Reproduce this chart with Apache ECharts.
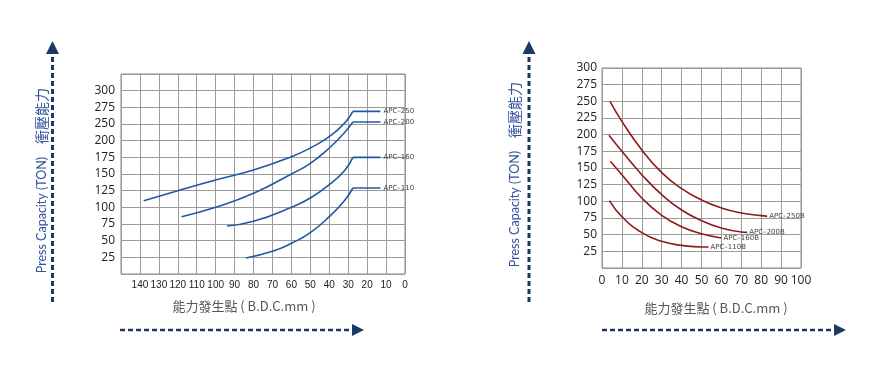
<!DOCTYPE html>
<html>
<head>
<meta charset="utf-8">
<script src="https://cdn.jsdelivr.net/npm/echarts@6/dist/echarts.min.js"></script>
<style>html,body{margin:0;padding:0;background:#fff;}#c{width:882px;height:380px;}</style>
</head>
<body>
<div id="c"></div>
<script>
// ---- Left chart (standard APC models), x = B.D.C. mm (axis inverted) ----
// y values are positions on the printed scale (grid steps of 25)
const leftYTickLabels = ['', '25', '50', '75', '100', '125', '150', '175', '200', '250', '275', '300', ''];
const leftXTickLabels = ['0','10','20','30','40','50','60','70','80','90','100','110','120','130','140',''];
const apc250Curve = [[138,110],[120,125],[100,141],[80,156],[60,176],[50,189],[40,206],[32,226],[27.5,244]];
const apc250Flat  = [[27.5,244],[13,244]];
const apc200Curve = [[118,86],[100,100],[80,121],[60,150],[50,166],[40,189],[32,212],[27.5,228]];
const apc200Flat  = [[27.5,228],[13,228]];
const apc160Curve = [[94,72],[80,79],[60,100],[50,114],[40,134],[32,155],[27.5,175]];
const apc160Flat  = [[27.5,175],[13,175]];
const apc110Curve = [[84,24],[70,34],[60,46],[50,62],[40,86],[32,110],[27.5,129]];
const apc110Flat  = [[27.5,129],[13,129]];
const leftNames = ['APC–250', 'APC–200', 'APC–160', 'APC–110'];

// ---- Right chart (B models) ----
const rightYTickLabels = ['', '25','50','75','100','125','150','175','200','225','250','275','300'];
const rightXTickLabels = ['0','10','20','30','40','50','60','70','80','90','100'];
const apc250B = [[4,250],[10,220],[20,177],[30,143],[40,119],[50,102],[60,90],[70,82.5],[80,78.5],[83,77.5]];
const apc200B = [[3.5,199],[10,175],[20,140],[30,110],[40,87],[50,71],[60,60],[70,54],[73,53.5]];
const apc160B = [[4.2,160],[10,140],[20,105],[30,79],[40,62],[50,51.5],[60,45]];
const apc110B = [[3.7,101],[10,77],[20,53],[30,40],[40,34],[50,31.5],[53.5,31.5]];
const rightNames = ['APC–250B', 'APC–200B', 'APC–160B', 'APC–110B'];

const blue = '#1f58a3';
const red = '#8e1a1c';
const navy = '#1d3769';
const gridColor = '#9a9a9a';
const narrowFont = '"Liberation Sans", Arial, sans-serif';
const labelFont = '"Open Sans", "DejaVu Sans", sans-serif';
const cjk = '"Noto Sans CJK TC", "Noto Sans CJK SC", sans-serif';
const tagStyle = { fontSize: 7, color: '#444', fontFamily: '"DejaVu Sans", sans-serif' };

function rightCurve(name, data) {
  return {
    type: 'line', name: name, data: data, xAxisIndex: 1, yAxisIndex: 1,
    smooth: 0.5, showSymbol: false, symbol: 'none',
    lineStyle: { color: red, width: 1.6 },
    endLabel: Object.assign({ show: true, formatter: name, distance: 2 }, tagStyle),
    z: 3
  };
}
function leftCurve(name, data) {
  return {
    type: 'line', name: name + ' curve', data: data, xAxisIndex: 0, yAxisIndex: 0,
    smooth: 0.5, showSymbol: false, symbol: 'none',
    lineStyle: { color: blue, width: 1.6 }, z: 3
  };
}
function leftFlat(name, data) {
  return {
    type: 'line', name: name, data: data, xAxisIndex: 0, yAxisIndex: 0,
    smooth: false, showSymbol: true, symbol: 'circle', symbolSize: 0.1,
    itemStyle: { color: blue },
    lineStyle: { color: blue, width: 1.6 },
    label: Object.assign({ show: true, position: 'right', distance: 3,
      formatter: p => (p.dataIndex === data.length - 1 ? name : '') }, tagStyle),
    z: 3
  };
}

const chart = echarts.init(document.getElementById('c'), null, { renderer: 'canvas' });
chart.setOption({
  animation: false,
  backgroundColor: '#fff',
  grid: [
    { left: 121, top: 74, width: 284, height: 200, show: true, borderColor: '#8a8a8a', borderWidth: 1 },
    { left: 602, top: 68, width: 199, height: 200, show: true, borderColor: '#8a8a8a', borderWidth: 1 }
  ],
  xAxis: [
    { type: 'value', gridIndex: 0, inverse: true, min: 0, max: 150, interval: 10,
      axisLine: { show: false }, axisTick: { show: false },
      splitLine: { show: true, lineStyle: { color: gridColor, width: 1 } },
      axisLabel: { fontSize: 10, color: '#222', fontFamily: narrowFont, margin: 6, hideOverlap: false,
        formatter: v => leftXTickLabels[Math.round(v / 10)] } },
    { type: 'value', gridIndex: 1, min: 0, max: 100, interval: 10,
      axisLine: { show: false }, axisTick: { show: false },
      splitLine: { show: true, lineStyle: { color: gridColor, width: 1 } },
      axisLabel: { fontSize: 12, color: '#222', fontFamily: labelFont, margin: 7, hideOverlap: false,
        formatter: v => rightXTickLabels[Math.round(v / 10)] } }
  ],
  yAxis: [
    { type: 'value', gridIndex: 0, min: 0, max: 300, interval: 25,
      axisLine: { show: false }, axisTick: { show: false },
      splitLine: { show: true, lineStyle: { color: gridColor, width: 1 } },
      axisLabel: { fontSize: 12, color: '#222', fontFamily: labelFont, margin: 6,
        formatter: v => leftYTickLabels[Math.round(v / 25)] } },
    { type: 'value', gridIndex: 1, min: 0, max: 300, interval: 25,
      axisLine: { show: false }, axisTick: { show: false },
      splitLine: { show: true, lineStyle: { color: gridColor, width: 1 } },
      axisLabel: { fontSize: 12, color: '#222', fontFamily: labelFont, margin: 5,
        formatter: v => rightYTickLabels[Math.round(v / 25)] } }
  ],
  series: [
    leftCurve(leftNames[0], apc250Curve), leftFlat(leftNames[0], apc250Flat),
    leftCurve(leftNames[1], apc200Curve), leftFlat(leftNames[1], apc200Flat),
    leftCurve(leftNames[2], apc160Curve), leftFlat(leftNames[2], apc160Flat),
    leftCurve(leftNames[3], apc110Curve), leftFlat(leftNames[3], apc110Flat),
    rightCurve(rightNames[0], apc250B),
    rightCurve(rightNames[1], apc200B),
    rightCurve(rightNames[2], apc160B),
    rightCurve(rightNames[3], apc110B)
  ],
  graphic: [
    // y titles (left)
    { type: 'text', x: 42, y: 215, rotation: Math.PI / 2,
      style: { text: 'Press Capacity (TON)', font: '12.5px Lato, "Open Sans", sans-serif', fill: '#33519c', align: 'center', verticalAlign: 'middle' } },
    { type: 'text', x: 42, y: 116, rotation: Math.PI / 2,
      style: { text: '衝壓能力', font: '14px ' + cjk, fill: '#33519c', align: 'center', verticalAlign: 'middle' } },
    // y titles (right)
    { type: 'text', x: 515, y: 209, rotation: Math.PI / 2,
      style: { text: 'Press Capacity (TON)', font: '12.5px Lato, "Open Sans", sans-serif', fill: '#33519c', align: 'center', verticalAlign: 'middle' } },
    { type: 'text', x: 515, y: 110, rotation: Math.PI / 2,
      style: { text: '衝壓能力', font: '14px ' + cjk, fill: '#33519c', align: 'center', verticalAlign: 'middle' } },
    // x titles
    { type: 'text', x: 244, y: 306,
      style: { text: '能力發生點 ( B.D.C.mm )', font: '13px ' + cjk, fill: '#555', align: 'center', verticalAlign: 'middle' } },
    { type: 'text', x: 716, y: 308,
      style: { text: '能力發生點 ( B.D.C.mm )', font: '13px ' + cjk, fill: '#555', align: 'center', verticalAlign: 'middle' } },
    // arrows
    { type: 'line', shape: { x1: 52.5, y1: 302, x2: 52.5, y2: 54 }, style: { stroke: navy, lineWidth: 3, lineDash: [5, 3] } },
    { type: 'polygon', shape: { points: [[46, 54], [59, 54], [52.5, 41]] }, style: { fill: navy } },
    { type: 'line', shape: { x1: 120, y1: 330, x2: 352, y2: 330 }, style: { stroke: navy, lineWidth: 2.5, lineDash: [5, 3] } },
    { type: 'polygon', shape: { points: [[352, 324], [352, 336], [364, 330]] }, style: { fill: navy } },
    { type: 'line', shape: { x1: 529, y1: 302, x2: 529, y2: 54 }, style: { stroke: navy, lineWidth: 3, lineDash: [5, 3] } },
    { type: 'polygon', shape: { points: [[522.5, 54], [535.5, 54], [529, 41]] }, style: { fill: navy } },
    { type: 'line', shape: { x1: 602, y1: 330, x2: 834, y2: 330 }, style: { stroke: navy, lineWidth: 2.5, lineDash: [5, 3] } },
    { type: 'polygon', shape: { points: [[834, 324], [834, 336], [846, 330]] }, style: { fill: navy } }
  ]
});
</script>
</body>
</html>
